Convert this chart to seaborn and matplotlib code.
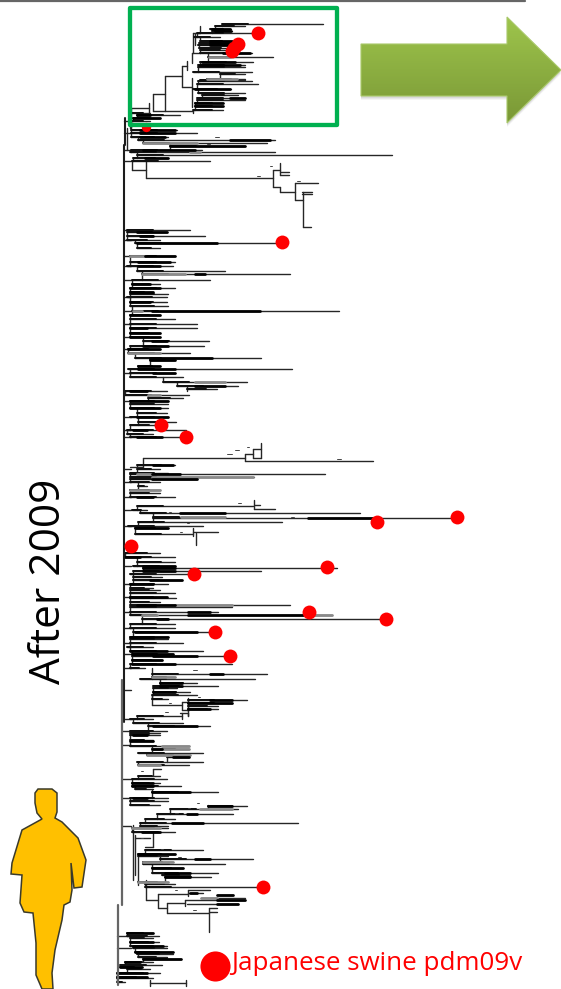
import numpy as np
import pandas as pd
import matplotlib
matplotlib.use("Agg")
import matplotlib.pyplot as plt
from matplotlib.patches import Polygon, Rectangle
import seaborn as sns

# Tree: (row position, branch start, branch end), in picture units
tips_boxed = [(24,222,323),(26,215,245),(29,210,231),(31,212,232),(33,197,258),(37,194,220),(41,200,235),(43,199,232),
    (45,198,240),(48,199,235),(50,200,232),(53,200,252),(57,208,273),(62,200,253),(65,198,245),(67,198,245),(72,193,252),
    (74,220,245),(79,207,245),(80,200,245),(81,198,252),(84,197,258),(89,193,231),(93,198,245),(95,202,238),(98,197,245),
    (100,197,245),(103,195,223),(106,195,223),(110,193,223)]
tips_upper = [(113,131,150),(115,137,180),(118,133,160),(121,131,150),(124,131,152),(130,131,177),(133,131,197),(137,131,168),
    (140,138,275),(143,143,267),(146,170,245),(150,131,202),(152,130,275),(155,137,392),(158,133,168),(161,132,210),
    (230,127,190),(232,127,167),(236,127,205),(240,127,160),(243,135,282),(248,137,160),(256,130,175),(262,130,175),
    (266,127,173),(271,137,225),(274,142,290),(280,132,210),(284,132,160),(288,130,175),(292,130,153),(294,130,168),
    (297,127,167),(302,130,167),(306,130,168),(311,132,339),(315,130,160),(319,130,175),(324,130,197),(328,130,197),
    (333,130,160),(337,130,160),(341,143,209),(346,130,204),(349,128,160),(353,128,190),(358,135,261),(360,150,175),
    (366,138,160),(369,128,292),(373,130,175),(377,130,183),(382,163,247),(386,177,238),(389,187,217),(391,125,167),
    (395,125,189),(398,148,183),(401,130,168),(404,130,168),(408,130,168),(413,137,167),(417,130,168),(422,138,176),
    (425,130,161),(430,127,186),(434,127,153),(437,130,186)]
tips_middle = [(465,137,175),(469,137,160),(473,130,168),(474,130,325),(477,130,254),(479,130,197),(482,130,160),(486,138,147),
    (490,130,160),(493,130,160),(497,130,175),(506,137,253),(510,132,147),(513,140,360),(517,153,225),(518,153,457),
    (522,138,282),(526,128,203),(528,135,168),(534,135,193),(553,125,160),(557,125,175),(562,137,175),(566,133,175),
    (568,143,337),(571,133,261),(574,130,194),(577,133,162),(580,133,182),(584,130,168),(588,130,153),(590,130,160),
    (593,130,175),(597,130,167),(598,130,176),(602,130,160),(605,130,290),(607,130,232),(612,130,218),(615,130,332),
    (619,142,386),(624,130,175),(628,130,175),(632,133,215),(637,130,168),(639,130,168),(643,130,183),(647,127,153),
    (651,130,203),(654,132,173),(656,132,230),(660,132,162),(664,130,232),(668,130,145)]
tips_lower = [(674,152,267),(677,152,175),(679,140,255),(683,160,197),(686,153,218),(688,153,177),(692,153,190),(695,152,197),
    (699,152,168),(700,188,247),(703,188,232),(706,188,218),(709,188,218),(716,137,182),(719,130,153),(723,133,183),
    (726,148,210),(731,130,167),(733,130,160),(735,130,160),(740,130,153),(746,130,189),(749,152,189),(753,138,203),
    (755,147,190),(757,167,189),(762,137,203),(765,138,189),(776,138,160),(779,132,167),(783,132,160),(786,132,181),
    (789,135,153),(792,152,218),(798,130,168),(801,130,168),(805,130,160),(806,208,247),(809,170,238),(814,157,233),
    (819,145,175),(823,140,298),(826,140,168),(828,132,168),(832,132,175),(850,145,203),(854,138,175),(856,138,168),
    (859,160,253),(862,143,173),(864,143,225),(868,152,183),(873,152,218),(875,162,190),(877,165,211),(882,138,168),
    (884,145,175),(887,145,263)]
tips_base = [(933,127,153),(936,127,159),(938,130,153),(942,130,159),(946,130,167),(948,133,167),(952,135,173),(954,137,173),
    (957,138,167),(959,143,181),(962,125,153),(965,120,162),(967,120,142),(969,127,150),(973,117,160),(977,117,147),
    (978,117,153),(982,117,125)]

# Inner branches: (row, start, end) and vertical joins: (position, from, to)
inner_across = [(94,153,165),(108,130,149),(111,153,193),(76,165,182),(66,182,187),(87,182,192),(53,192,200),(33,193,200),
    (170,132,146),(178,146,273),(170,273,280),(172,280,289),(175,280,289),(187,273,280),(192,280,295),(183,295,318),
    (192,302,312),(194,302,312),(200,295,303),(227,303,311),(458,143,245),(461,245,373),(454,245,253),(449,253,261),
    (458,253,261),(467,130,143),(505,254,260),(509,254,275),(532,193,218),(705,152,182),(702,182,188),(710,182,188),
    (713,180,188),(769,153,161),(847,145,153),(900,146,158),(894,158,188),(890,188,210),(893,188,203),(908,158,167),
    (903,167,185),(900,185,245),(898,201,245),(904,187,238),(895,217,233),(913,167,209),(908,209,217),(912,209,217),
    (983,150,186),(838,135,150)]
inner_upright = [(153,94,111),(165,76,111),(149,103,113),(131,108,127),(182,66,87),(187,61,70),(192,53,63),(192,78,107),
    (193,33,53),(200,26,33),(195,33,45),(132,160,170),(146,161,178),(273,170,187),(280,163,175),(280,187,192),(295,183,200),
    (303,192,227),(143,458,467),(245,454,461),(253,449,458),(261,443,458),(254,500,509),(193,528,536),(196,533,545),
    (152,695,705),(182,702,710),(188,698,711),(188,713,716),(182,713,719),(153,769,776),(153,833,847),(135,835,875),
    (133,825,880),(146,880,900),(158,894,908),(188,890,896),(167,903,913),(185,900,906),(209,908,932),(150,980,986),
    (186,980,986),(130,113,128),(127,128,150),(138,856,885)]

# Fine, nearly solid runs of very close branches
dense_runs = [(29,212,230),(31,215,231),(41,210,232),(43,210,232),(45,210,238),(53,223,250),(62,202,235),(65,200,240),
    (89,195,230),(98,230,245),(103,195,223),(106,195,223),(115,137,150),(118,133,160),(130,140,175),(133,140,175),(137,140,165),
    (140,230,270),(146,170,245),(150,143,195),(158,145,168),(232,137,167),(236,140,153),(243,137,217),(262,138,170),
    (256,145,175),(266,138,160),(274,195,205),(284,132,150),(288,130,160),(292,130,153),(302,130,150),(311,152,260),
    (315,130,160),(328,130,147),(333,130,160),(337,130,160),(341,152,167),(346,143,168),(349,128,160),(358,150,212),
    (360,150,175),(366,138,160),(369,138,175),(373,153,175),(386,195,225),(391,130,147),(401,130,168),(408,130,160),
    (417,137,168),(430,133,147),(437,137,162),(465,153,173),(474,152,180),(479,152,197),(497,137,153),(513,180,225),
    (518,308,373),(528,135,168),(557,125,140),(566,143,175),(568,143,175),(571,143,175),(580,150,182),(584,130,153),
    (597,130,167),(605,137,175),(612,188,210),(615,188,303),(619,157,168),(632,135,197),(637,130,168),(651,130,167),
    (654,132,173),(656,153,197),(660,132,162),(664,132,175),(683,160,182),(686,160,182),(692,153,175),(674,210,223),
    (700,210,232),(703,188,232),(709,188,210),(726,153,197),(735,133,147),(741,130,153),(749,152,162),(757,173,189),
    (783,132,153),(786,132,153),(792,152,190),(798,133,147),(806,208,232),(814,187,197),(823,172,203),(832,142,160),
    (854,138,175),(859,195,210),(868,152,183),(873,165,190),(877,165,190),(893,190,197),(895,217,233),(900,217,245),
    (904,217,238),(933,127,153),(942,130,153),(946,133,163),(952,135,173),(959,143,181),(962,125,140),(967,120,142),
    (973,117,147),(977,117,147)]
shade_runs = [(57,209,230),(79,207,237),(143,143,197),(152,190,200),(256,130,145),(274,142,185),(311,133,142),(353,128,160),
    (382,195,225),(395,148,160),(477,152,253),(474,137,152),(490,130,160),(517,181,225),(605,175,232),(615,142,157),
    (615,303,332),(677,152,175),(746,162,189),(749,152,189),(755,147,190),(765,138,160),(809,200,232),(828,132,160),
    (862,143,173),(882,138,168),(898,201,217)]
specks = [(137,215,219),(144,207,210),(166,270,272),(181,297,300),(176,257,260),(454,227,232),(450,235,239),(447,247,249),
    (459,337,341),(503,238,241),(517,291,294),(512,169,171),(523,187,189),(532,180,182),(670,193,197),(712,165,168),
    (703,169,171),(697,198,200),(771,141,143),(838,141,143),(849,161,163),(857,178,181),(808,188,190),(803,197,199),
    (890,175,177),(910,193,196),(813,175,178)]
backbone = [(124,145,722),(125.5,118,145)]
backbone_soft = [(122.5,680,905),(118,905,985)]
backbone_links = [121,133,150,161,230,240,256,266,280,297,311,324,337,349,373,401,417,430,437,469,482,497,510,526,566,584,
    597,612,628,643,654,668,690,719,731,745,779,798,826,936,948]

# Japanese swine pdm09v tips
swine_x = [258,238,234,232,282,161,186,377,457,131,327,194,309,386,215,230,263]
swine_y = [33,44,48,51,242,425,437,522,517,546,567,574,612,619,632,656,887]
hidden_x, hidden_y = [146], [127]
key_x, key_y = [215], [966]

# Drawn shapes
arrow_outline = [(361,44),(507,44),(507,17),(561,70),(507,123),(507,96),(361,96)]
person_outline = [(35,793),(38,789),(52,789),(57,793),(57,812),(55,818),(62,822),(78,838),(86,860),(82,887),(74,888),(71,863),
    (72,890),(70,902),(64,905),(62,920),(55,950),(52,973),(53,989),(42,989),(36,975),(36,943),(33,913),(24,912),(20,903),
    (22,875),(11,874),(12,863),(22,830),(42,819),(37,813),(35,803)]


def frame(rows, horizontal=True):
    """Long table with one unit per branch."""
    records = []
    for i, (p, a, b) in enumerate(rows):
        for v in (a, b):
            records.append({"x": v, "y": p, "branch": i} if horizontal else {"x": p, "y": v, "branch": i})
    return pd.DataFrame(records)


def draw(rows, ax, horizontal=True, **kw):
    sns.lineplot(data=frame(rows, horizontal), x="x", y="y", units="branch", estimator=None, sort=False,
                 legend=False, ax=ax, **kw)


sns.set_theme(style="white")
plt.rcParams["font.family"] = ["Open Sans", "DejaVu Sans"]
fig = plt.figure(figsize=(5.61, 9.89), dpi=100, facecolor="white")
ax = fig.add_axes([0, 0, 1, 1])
ax.set_xlim(0, 561)
ax.set_ylim(989, 0)
ax.axis("off")

all_tips = sorted(tips_boxed + tips_upper + tips_middle + tips_lower + tips_base)
joins = []
for (y0, a0, _), (y1, a1, _) in zip(all_tips[:-1], all_tips[1:]):
    if y1 - y0 <= 7:
        joins.append((max(a0, a1), y0, y1))
edge = [(y, 124 if y < 680 else (122 if y < 905 else 117), 131) for y in backbone_links]
# The inner part of each branch sits among many unresolved close tips, so it prints heavier
heavy = [(y, a, a + 0.62 * min(b - a, 42)) for y, a, b in all_tips]

ink = "#262626"
draw(all_tips + inner_across + edge, ax, color=ink, linewidth=1.0)
draw(joins + inner_upright, ax, horizontal=False, color=ink, linewidth=1.0)
draw(heavy, ax, color="#111111", linewidth=1.45)
draw(shade_runs, ax, color="#8a8a8a", linewidth=2.0)
draw(dense_runs, ax, color="#000000", linewidth=2.0)
draw(specks, ax, color="#444444", linewidth=0.7)
draw(backbone, ax, horizontal=False, color="#1c1c1c", linewidth=1.5)
draw(backbone_soft, ax, horizontal=False, color="#666666", linewidth=1.6)

sns.scatterplot(x=hidden_x, y=hidden_y, s=45, color="#ff0000", linewidth=0, ax=ax, zorder=4)

ax.add_patch(Rectangle((130, 8), 207, 117, fill=False, edgecolor="#00b050", linewidth=3.1, zorder=5, joinstyle="round"))
ax.plot([0, 525], [0.5, 0.5], color="#666666", linewidth=1.6, zorder=5)

sns.scatterplot(x=swine_x, y=swine_y, s=100, color="#ff0000", linewidth=0, ax=ax, zorder=6)
sns.scatterplot(x=key_x, y=key_y, s=470, color="#ff0000", linewidth=0, ax=ax, zorder=6)

# Arrow: soft shadow, then vertical gradient clipped to the outline
for off, alpha in [(4, 0.06), (3, 0.08), (2, 0.10)]:
    ax.add_patch(Polygon([(x, y + off) for x, y in arrow_outline], closed=True, facecolor="#555555",
                         edgecolor="none", alpha=alpha, zorder=6))
shade = np.linspace(0, 1, 120)[:, None]
colors = np.array([0x9e, 0xc5, 0x4c])[None, None, :] * (1 - shade[..., None]) + \
    np.array([0x7a, 0x98, 0x36])[None, None, :] * shade[..., None]
img = ax.imshow(colors.astype(np.uint8), extent=(361, 561, 123, 17), aspect="auto", zorder=7)
arrow = Polygon(arrow_outline, closed=True, facecolor="none", edgecolor="#a9c96a", linewidth=0.8, zorder=8)
ax.add_patch(arrow)
img.set_clip_path(arrow)
ax.set_xlim(0, 561)
ax.set_ylim(989, 0)

ax.add_patch(Polygon(person_outline, closed=True, facecolor="#ffc000", edgecolor="#3a3a2a", linewidth=1.1, zorder=6))

ax.text(49, 581, "After 2009", rotation=90, ha="center", va="center", fontsize=30.5, color="#000000", zorder=7)
ax.text(231, 963, "Japanese swine pdm09v", ha="left", va="center", fontsize=18.7, color="#ff0000", zorder=7)

fig.savefig("out.png", dpi=100, facecolor="white")
